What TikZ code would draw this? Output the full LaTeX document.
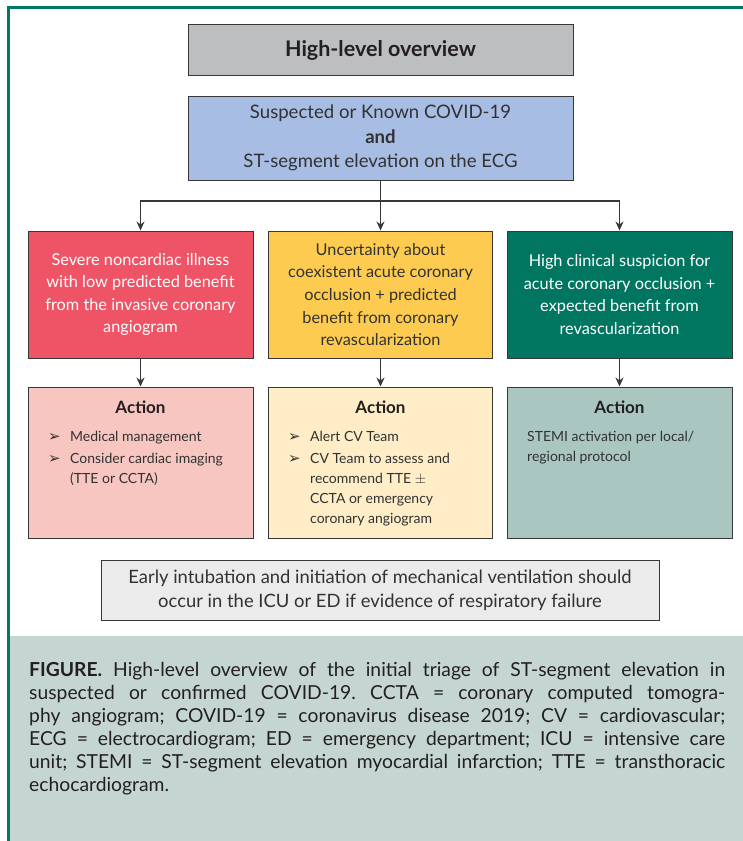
\documentclass[tikz,border=0pt]{standalone}
\usepackage{fontspec}
\setmainfont{Lato}
\newfontfamily\symfont{DejaVu Sans}
\usetikzlibrary{arrows.meta}
\definecolor{frameteal}{RGB}{0,120,100}
\definecolor{capbg}{RGB}{197,214,210}
\definecolor{boxline}{RGB}{55,55,55}
\definecolor{titlegrey}{RGB}{188,190,192}
\definecolor{blueish}{RGB}{168,189,227}
\definecolor{redbox}{RGB}{239,84,102}
\definecolor{yellowbox}{RGB}{253,203,79}
\definecolor{greenbox}{RGB}{0,117,96}
\definecolor{redlight}{RGB}{248,198,193}
\definecolor{yellowlight}{RGB}{254,237,198}
\definecolor{greenlight}{RGB}{170,198,193}
\definecolor{bottomgrey}{RGB}{235,235,236}
\definecolor{darktext}{RGB}{50,50,50}
\definecolor{captext}{RGB}{35,31,32}
\newcommand{\bul}{\makebox[22pt][l]{\raisebox{0pt}{\symfont\fontsize{15}{12}\selectfont ➢}}}
\newcommand{\ind}{\hspace*{22pt}}
\frenchspacing
\begin{document}
\begin{tikzpicture}[x=1pt,y=-1pt,
  box/.style={draw=boxline, line width=1pt, inner sep=0pt, align=center},
  rowbox/.style={box, minimum width=225, minimum height=127, font=\fontsize{16.3}{22.6}\selectfont},
  actbox/.style={box, minimum width=225, minimum height=151},
  acthead/.style={font=\bfseries\fontsize{17}{20}\selectfont, text=captext, inner sep=0pt},
  actlist/.style={anchor=north west, align=left, inner sep=0pt, text=darktext, font=\fontsize{14}{20}\selectfont},
  arr/.style={line width=1.1pt, draw=boxline, -{Stealth[length=9pt,width=8pt]}}]
\useasboundingbox (0,0) rectangle (743,841);
\fill[white] (0,0) rectangle (743,841);
\fill[capbg] (9,636) rectangle (743,841);
\draw[frameteal, line width=3pt] (8.5,841) -- (8.5,7.5) -- (743,7.5);

\node[box, fill=titlegrey, minimum width=385, minimum height=51, text=captext, font=\bfseries\fontsize{21.5}{24}\selectfont] (title) at (380.5,50) {High-level overview};
\node[box, fill=blueish, minimum width=385, minimum height=84, text=darktext, font=\fontsize{18.6}{24.5}\selectfont] (susp) at (380.5,138) {Suspected or Known COVID-19\\\textbf{and}\\ST-segment elevation on the ECG};

\node[rowbox, fill=redbox, text=white] (red) at (140.5,294.5) {Severe noncardiac illness\\with low predicted benefit\\from the invasive coronary\\angiogram};
\node[rowbox, fill=yellowbox, text=darktext, minimum width=224] (yellow) at (380.5,294.5) {Uncertainty about\\coexistent acute coronary\\occlusion + predicted\\benefit from coronary\\revascularization};
\node[rowbox, fill=greenbox, text=white] (green) at (619.5,294.5) {High clinical suspicion for\\acute coronary occlusion +\\expected benefit from\\revascularization};

\coordinate (split) at (380.5,201);
\draw[line width=1.1pt, draw=boxline] (susp.south) -- (split);
\draw[arr] (split) -| (red.north);
\draw[arr] (split) -- (yellow.north);
\draw[arr] (split) -| (green.north);

\node[actbox, fill=redlight] (redact) at (140.5,462.5) {};
\node[actbox, fill=yellowlight, minimum width=224] (yellowact) at (380.5,462.5) {};
\node[actbox, fill=greenlight] (greenact) at (619.5,462.5) {};

\draw[arr] (red) -- (redact);
\draw[arr] (yellow) -- (yellowact);
\draw[arr] (green) -- (greenact);

\node[acthead] (redhead) at (140.5,407) {Action};
\node[acthead] (yellowhead) at (380.5,407) {Action};
\node[acthead] (greenhead) at (619.5,407) {Action};

\node[actlist] (redlist) at (48,431) {\bul Medical management\\[2pt]\bul Consider cardiac imaging\\\ind (TTE or CCTA)};
\node[actlist] (yellowlist) at (288,431) {\bul Alert CV Team\\[2pt]\bul CV Team to assess and\\\ind recommend TTE $\pm$\\\ind CCTA or emergency\\\ind coronary angiogram};
\node[actlist, font=\fontsize{14}{19.5}\selectfont] (greenlist) at (527,431) {STEMI activation per local/\\regional protocol};

\node[box, fill=bottomgrey, minimum width=558, minimum height=60, text=darktext, font=\fontsize{18.4}{24}\selectfont] (bottom) at (380,590) {Early intubation and initiation of mechanical ventilation should\\occur in the ICU or ED if evidence of respiratory failure};

\node[anchor=north west, inner sep=0pt, text width=696pt, align=justify, text=captext, font=\fontsize{19.3}{23}\selectfont] (caption) at (29,662) {\textbf{FIGURE.} High-level overview of the initial triage of ST-segment elevation in\linebreak suspected or confirmed COVID-19. CCTA = coronary computed tomogra-\linebreak phy angiogram; COVID-19 = coronavirus disease 2019; CV = cardiovascular;\linebreak ECG = electrocardiogram; ED = emergency department; ICU = intensive care\linebreak unit; STEMI = ST-segment elevation myocardial infarction; TTE = transthoracic\linebreak echocardiogram.};
\end{tikzpicture}
\end{document}
